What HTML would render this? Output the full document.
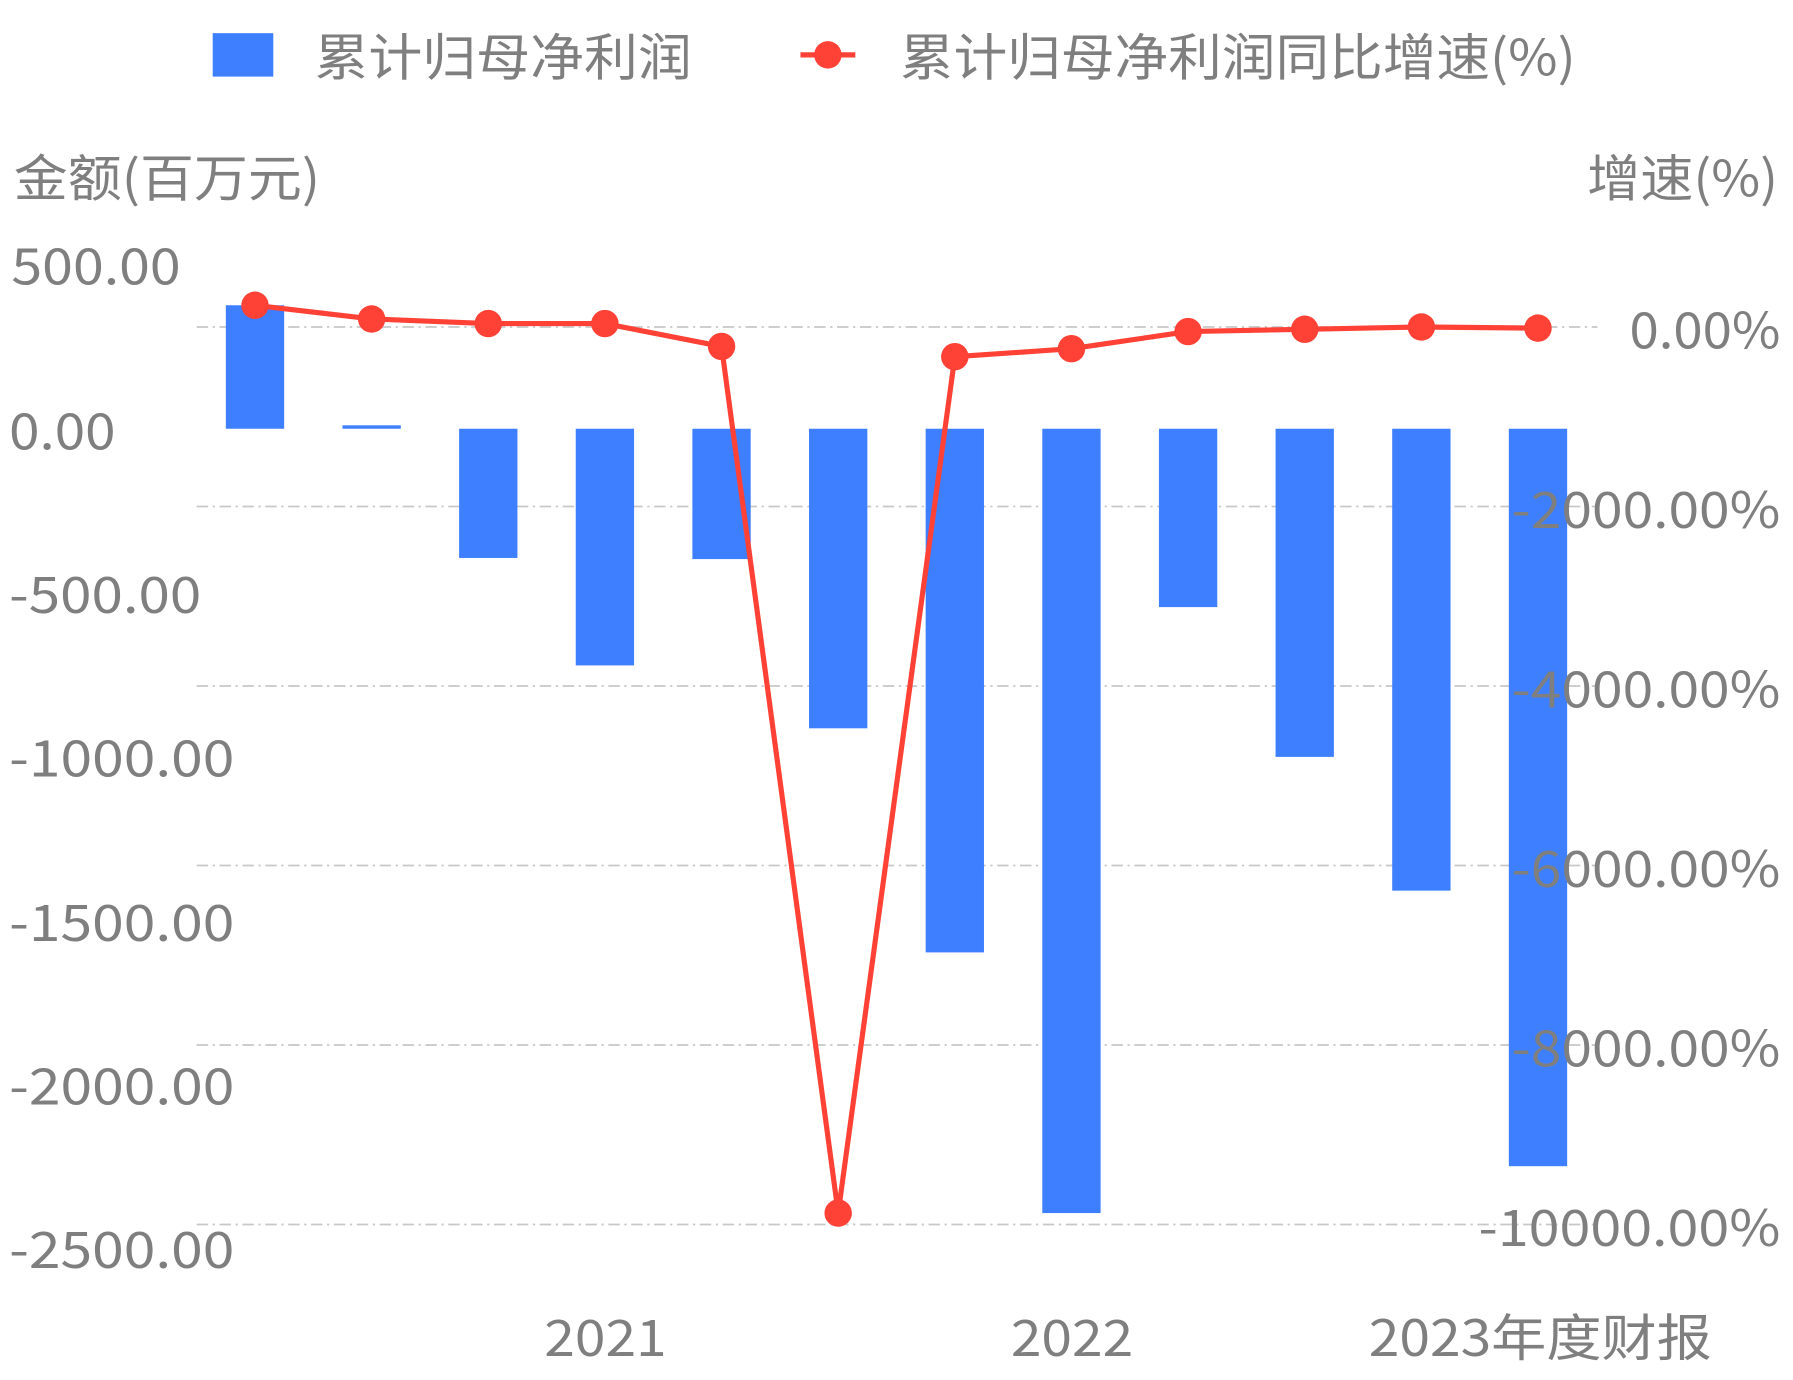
<!DOCTYPE html>
<html><head><meta charset="utf-8"><style>
html,body{margin:0;padding:0;background:#fff;}
svg{display:block;}
text{font-family:"Noto Sans CJK SC",sans-serif;fill:#7f7f7f;}
</style></head><body>
<svg width="1793" height="1380" viewBox="0 0 1568 1207" preserveAspectRatio="none">
<g stroke="#c8c8c8" stroke-width="1.5" stroke-dasharray="10,4,2,4">
<line x1="172" y1="286" x2="1397" y2="286"/>
<line x1="172" y1="443" x2="1397" y2="443"/>
<line x1="172" y1="600" x2="1397" y2="600"/>
<line x1="172" y1="757" x2="1397" y2="757"/>
<line x1="172" y1="914" x2="1397" y2="914"/>
<line x1="172" y1="1071" x2="1397" y2="1071"/>
</g>
<g fill="#3d7fff">
<rect x="197.5" y="267" width="51" height="108"/>
<rect x="299.5" y="372" width="51" height="3"/>
<rect x="401.5" y="375" width="51" height="113"/>
<rect x="503.5" y="375" width="51" height="207"/>
<rect x="605.5" y="375" width="51" height="114"/>
<rect x="707.5" y="375" width="51" height="262"/>
<rect x="809.5" y="375" width="51" height="458"/>
<rect x="911.5" y="375" width="51" height="686"/>
<rect x="1013.5" y="375" width="51" height="156"/>
<rect x="1115.5" y="375" width="51" height="287"/>
<rect x="1217.5" y="375" width="51" height="404"/>
<rect x="1319.5" y="375" width="51" height="645"/>
</g>
<polyline fill="none" stroke="#ff4136" stroke-width="4.5" points="223,267 325,279 427,283 529,283 631,303 733,1061 835,312 937,305 1039,290 1141,288 1243,286 1345,287"/>
<g fill="#ff4136">
<circle cx="223" cy="267" r="12"/><circle cx="325" cy="279" r="12"/><circle cx="427" cy="283" r="12"/><circle cx="529" cy="283" r="12"/><circle cx="631" cy="303" r="12"/><circle cx="733" cy="1061" r="12"/><circle cx="835" cy="312" r="12"/><circle cx="937" cy="305" r="12"/><circle cx="1039" cy="290" r="12"/><circle cx="1141" cy="288" r="12"/><circle cx="1243" cy="286" r="12"/><circle cx="1345" cy="287" r="12"/>
</g>
<g font-size="44" lengthAdjust="spacingAndGlyphs">
<text x="10" y="249" textLength="148" lengthAdjust="spacingAndGlyphs">500.00</text>
<text x="8" y="393" textLength="93" lengthAdjust="spacingAndGlyphs">0.00</text>
<text x="8" y="536" textLength="168" lengthAdjust="spacingAndGlyphs">-500.00</text>
<text x="8" y="679" textLength="197" lengthAdjust="spacingAndGlyphs">-1000.00</text>
<text x="8" y="823" textLength="197" lengthAdjust="spacingAndGlyphs">-1500.00</text>
<text x="8" y="966" textLength="197" lengthAdjust="spacingAndGlyphs">-2000.00</text>
<text x="8" y="1109" textLength="197" lengthAdjust="spacingAndGlyphs">-2500.00</text>
</g>
<g font-size="44">
<text x="1425" y="305" textLength="132" lengthAdjust="spacingAndGlyphs">0.00%</text>
<text x="1322" y="462" textLength="235" lengthAdjust="spacingAndGlyphs">-2000.00%</text>
<text x="1322" y="619" textLength="235" lengthAdjust="spacingAndGlyphs">-4000.00%</text>
<text x="1322" y="776" textLength="235" lengthAdjust="spacingAndGlyphs">-6000.00%</text>
<text x="1322" y="933" textLength="235" lengthAdjust="spacingAndGlyphs">-8000.00%</text>
<text x="1293" y="1090" textLength="264" lengthAdjust="spacingAndGlyphs">-10000.00%</text>
</g>
<text x="12" y="172" font-size="44" textLength="268" lengthAdjust="spacingAndGlyphs">金额(百万元)</text>
<text x="1388" y="172" font-size="44" textLength="167" lengthAdjust="spacingAndGlyphs">增速(%)</text>
<g font-size="44">
<text x="476" y="1186" textLength="107" lengthAdjust="spacingAndGlyphs">2021</text>
<text x="884" y="1186" textLength="107" lengthAdjust="spacingAndGlyphs">2022</text>
<text x="1197" y="1186" textLength="300" lengthAdjust="spacingAndGlyphs">2023年度财报</text>
</g>
<rect x="186" y="29" width="53" height="38" fill="#3d7fff"/>
<text x="275" y="66" font-size="44" textLength="330" lengthAdjust="spacingAndGlyphs">累计归母净利润</text>
<line x1="700" y1="48" x2="748" y2="48" stroke="#ff4136" stroke-width="4.5"/>
<circle cx="724" cy="48" r="12" fill="#ff4136"/>
<text x="787" y="66" font-size="44" textLength="591" lengthAdjust="spacingAndGlyphs">累计归母净利润同比增速(%)</text>
</svg>
</body></html>
